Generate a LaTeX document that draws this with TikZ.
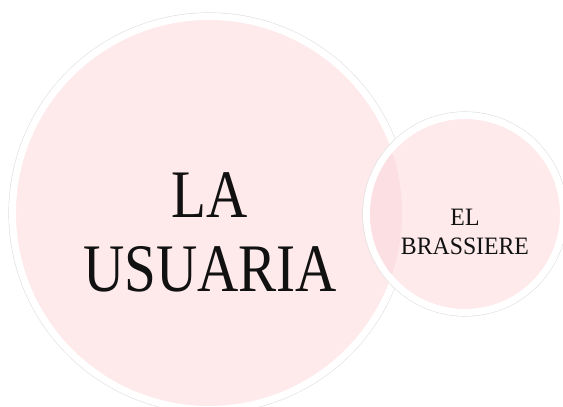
\documentclass[tikz,border=0pt]{standalone}
\usepackage{fontspec}
\usepackage{graphicx}
\setmainfont{Liberation Serif}
\definecolor{pinkfill}{RGB}{254,233,235}
\definecolor{pinkdeep}{RGB}{251,223,227}
\definecolor{txt}{RGB}{17,17,17}
\tikzset{
  bubble/.style={circle, inner sep=0pt, draw=white, line width=7pt, fill=pinkfill,
    preaction={draw=gray!25, line width=8.2pt}},
  bigtext/.style={align=center, text=txt, inner sep=0pt,
    font=\fontsize{68}{74}\selectfont},
  smalltext/.style={align=center, text=txt, inner sep=0pt,
    font=\fontsize{25}{29}\selectfont},
}
\begin{document}
\begin{tikzpicture}[x=1pt,y=-1pt]
\useasboundingbox (0,0) rectangle (563,407);
\node[bubble, minimum size=393pt] (big) at (209,213) {};
\node[bubble, minimum size=197pt] (small) at (465,214) {};
\begin{scope}
  \clip (small.center) circle[radius=95pt];
  \fill[pinkdeep] (big.center) circle[radius=193pt];
\end{scope}
\node[bigtext] (usuaria) at (210,232.5) {\scalebox{0.84}[1]{LA}\\\scalebox{0.84}[1]{USUARIA}};
\node[smalltext] (brassiere) at (465,231.5) {\scalebox{0.95}[1]{EL}\\\scalebox{0.95}[1]{BRASSIERE}};
\end{tikzpicture}
\end{document}
